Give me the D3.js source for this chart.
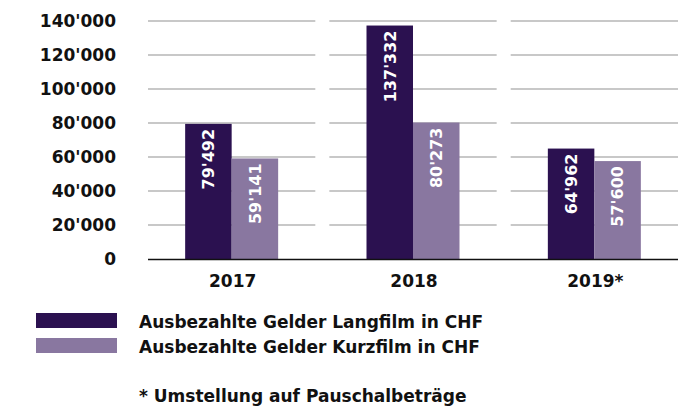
<!DOCTYPE html>
<html><head><meta charset="utf-8">
<script src="https://cdn.jsdelivr.net/npm/d3@7"></script>
<style>body{margin:0;background:#fff}svg{display:block}text{font-family:"DejaVu Sans",sans-serif}</style>
</head><body>
<script>
const years = ["2017","2018","2019*"];
const seriesNames = ["Ausbezahlte Gelder Langfilm in CHF","Ausbezahlte Gelder Kurzfilm in CHF"];
const langfilm = [79492,137332,64962];
const kurzfilm = [59141,80273,57600];
const yTicks = [0,20000,40000,60000,80000,100000,120000,140000];
const colors = ["#2b1150","#8977a0"];
const footnote = "* Umstellung auf Pauschalbeträge";

const W=687,H=410;
const svg=d3.select("body").append("svg").attr("width",W).attr("height",H);
const fmt = v => d3.format(",")(v).replace(/,/g,"'");

const x = d3.scaleBand().domain(years).range([148,678]).paddingInner(14/181).paddingOuter(0);
const y = d3.scaleLinear().domain([0,140000]).range([259,21]);

// gridlines
years.forEach(yr=>{
  svg.append("g").selectAll("line").data(yTicks.slice(1)).join("line")
    .attr("x1",x(yr)).attr("x2",x(yr)+x.bandwidth())
    .attr("y1",d=>y(d)).attr("y2",d=>y(d))
    .attr("stroke","#c8c8c8").attr("stroke-width",2);
});
// y labels
svg.append("g").selectAll("text").data(yTicks).join("text")
  .attr("x",116).attr("y",d=>y(d)).attr("dy","0.36em")
  .attr("text-anchor","end").attr("font-weight","bold").attr("font-size",17)
  .attr("fill","#111").text(d=>fmt(d));

const data = years.map((yr,i)=>({yr,vals:[langfilm[i],kurzfilm[i]]}));
const g = svg.append("g").selectAll("g").data(data).join("g");
const bw = 46.5;
g.each(function(d){
  const sel=d3.select(this);
  const off=(x.bandwidth()-2*bw)/2;
  d.vals.forEach((v,j)=>{
    const bx = x(d.yr)+off+j*bw;
    sel.append("rect").attr("x",bx).attr("width",bw).attr("y",y(v)).attr("height",y(0)-y(v)).attr("fill",colors[j]);
    const cx=bx+bw/2, ty=y(v)+5;
    sel.append("text").attr("transform",`translate(${cx},${ty}) rotate(-90)`)
      .attr("text-anchor","end").attr("dy","0.36em").attr("fill","#fff")
      .attr("font-weight","bold").attr("font-size",16).text(fmt(v));
  });
});
// baseline
svg.append("line").attr("x1",148).attr("x2",678).attr("y1",y(0)+0.5).attr("y2",y(0)+0.5).attr("stroke","#111").attr("stroke-width",1.5);
// x labels
svg.append("g").selectAll("text").data(years).join("text")
  .attr("x",d=>x(d)+x.bandwidth()/2+1).attr("y",287)
  .attr("text-anchor","middle").attr("font-weight","bold").attr("font-size",17).attr("fill","#111").text(d=>d);
// legend
seriesNames.forEach((s,i)=>{
  svg.append("rect").attr("x",36).attr("y",313+i*25).attr("width",81).attr("height",15).attr("fill",colors[i]);
  svg.append("text").attr("x",139).attr("y",327.5+i*25).attr("font-size",17).attr("font-weight","bold").attr("fill","#111").text(s);
});
svg.append("text").attr("x",139).attr("y",402).attr("font-size",17).attr("font-weight","bold").attr("fill","#111").text(footnote);
</script>
</body></html>
